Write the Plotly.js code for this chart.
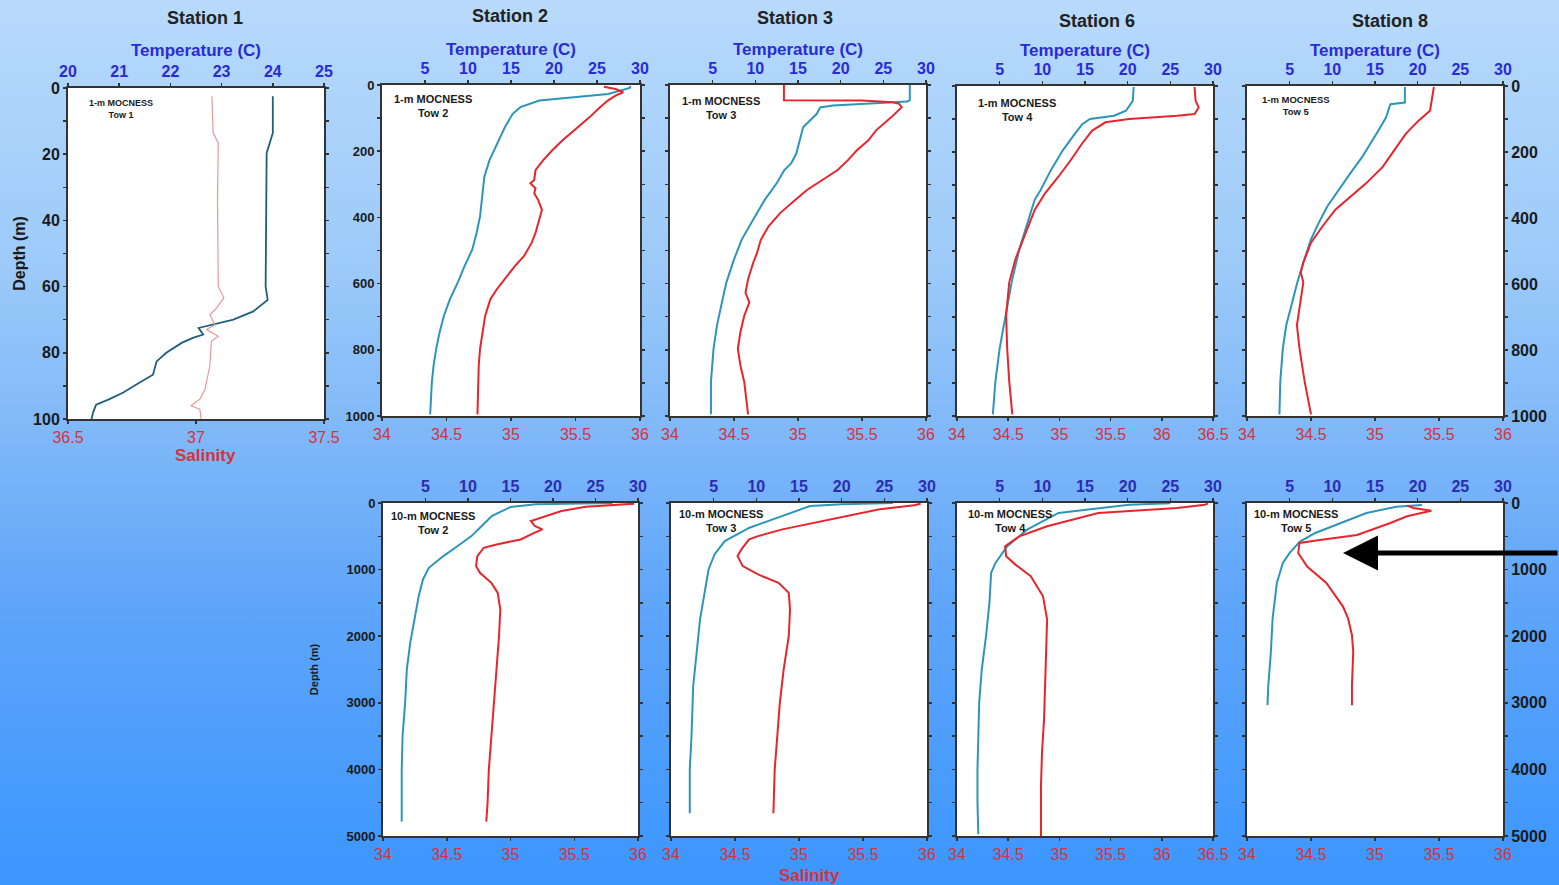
<!DOCTYPE html>
<html>
<head>
<meta charset="utf-8">
<script src="https://cdn.plot.ly/plotly-3.0.1.min.js"></script>
<style>
html,body{margin:0;padding:0;}
#chart{width:1559px;height:885px;background:linear-gradient(to bottom,#b8dafc 0%,#9ccaf9 30%,#7db7f8 50%,#5fa5fa 68%,#3b96fe 100%);}
</style>
</head>
<body>
<div id="chart"></div>
<script>
// ---------------- DATA ----------------
// Station 1, 1-m MOCNESS Tow 1 (depth 0-100 m)
const s1TDepth = [2.5, 13.6, 19.6, 33.7, 60, 64, 67.5, 70, 71.8, 72.5, 74.5, 75.5, 77, 80, 82.6, 86.6, 89, 92, 94, 95.7, 98, 100];
const s1Temp   = [24.0, 24.0, 23.88, 23.87, 23.86, 23.9, 23.62, 23.23, 22.7, 22.55, 22.64, 22.44, 22.22, 21.92, 21.73, 21.66, 21.4, 21.08, 20.81, 20.55, 20.49, 20.46];
const s1SDepth = [2.5, 13.6, 16.6, 33.7, 60, 63.4, 66.5, 68.5, 71.5, 73, 75, 76.5, 84, 91, 94, 96, 97, 100];
const s1Sal    = [37.062, 37.067, 37.087, 37.084, 37.087, 37.109, 37.08, 37.054, 37.074, 37.041, 37.087, 37.06, 37.054, 37.035, 37.015, 36.98, 37.015, 37.02];

// Station 2, 1-m MOCNESS Tow 2 (0-1000 m)
const s2TDepth = [3, 9, 27, 37, 47, 67, 87, 127, 177, 227, 277, 347, 397, 447, 497, 547, 597, 647, 697, 747, 797, 847, 897, 995];
const s2Temp   = [28.9, 28.8, 26.3, 21.9, 18.3, 16.1, 15.2, 14.3, 13.4, 12.5, 11.9, 11.6, 11.4, 11.0, 10.5, 9.6, 8.8, 7.9, 7.2, 6.7, 6.3, 6.0, 5.8, 5.6];
const s2SDepth = [5, 12, 22, 32, 47, 67, 97, 127, 167, 197, 227, 257, 287, 297, 312, 327, 347, 377, 407, 447, 477, 517, 547, 587, 617, 647, 697, 747, 797, 847, 947, 995];
const s2Sal    = [35.72, 35.81, 35.87, 35.81, 35.75, 35.69, 35.61, 35.52, 35.40, 35.32, 35.25, 35.19, 35.18, 35.15, 35.19, 35.18, 35.21, 35.24, 35.22, 35.19, 35.16, 35.10, 35.03, 34.95, 34.89, 34.84, 34.80, 34.78, 34.76, 34.75, 34.74, 34.74];

// Station 3, 1-m MOCNESS Tow 3
const s3TDepth = [0, 46, 50, 56, 62, 68, 87, 128, 167, 207, 237, 257, 297, 347, 387, 427, 467, 527, 597, 667, 727, 797, 897, 995];
const s3Temp   = [28.1, 28.1, 27.8, 22.5, 19.1, 17.6, 17.2, 15.6, 15.2, 14.8, 14.2, 13.4, 12.5, 11.1, 10.2, 9.3, 8.4, 7.5, 6.6, 6.0, 5.5, 5.1, 4.8, 4.8];
const s3SDepth = [0, 46, 47, 52, 57, 67, 97, 137, 167, 197, 227, 257, 287, 317, 347, 387, 427, 467, 507, 537, 587, 627, 657, 697, 747, 797, 847, 897, 995];
const s3Sal    = [34.89, 34.89, 35.5, 35.74, 35.79, 35.81, 35.73, 35.61, 35.55, 35.46, 35.39, 35.31, 35.19, 35.07, 34.98, 34.86, 34.77, 34.71, 34.68, 34.65, 34.61, 34.59, 34.62, 34.58, 34.55, 34.53, 34.55, 34.58, 34.61];

// Station 6, 1-m MOCNESS Tow 4
const s6TDepth = [3, 45, 75, 90, 100, 115, 145, 195, 255, 315, 345, 405, 495, 595, 695, 795, 895, 995];
const s6Temp   = [20.7, 20.6, 19.8, 18.4, 15.6, 14.7, 13.8, 12.4, 11.0, 9.8, 9.1, 8.4, 7.3, 6.4, 5.7, 5.0, 4.5, 4.2];
const s6SDepth = [3, 45, 65, 85, 90, 100, 110, 135, 175, 225, 275, 325, 375, 445, 525, 595, 695, 795, 895, 995];
const s6Sal    = [36.32, 36.33, 36.36, 36.32, 36.15, 35.68, 35.45, 35.32, 35.22, 35.11, 34.99, 34.86, 34.76, 34.67, 34.57, 34.51, 34.48, 34.49, 34.51, 34.54];

// Station 8, 1-m MOCNESS Tow 5
const s8TDepth = [3, 50, 55, 95, 135, 175, 215, 265, 315, 365, 415, 465, 535, 595, 665, 725, 795, 895, 995];
const s8Temp   = [18.5, 18.5, 16.8, 16.3, 15.4, 14.5, 13.5, 12.1, 10.8, 9.4, 8.4, 7.5, 6.6, 5.9, 5.2, 4.6, 4.2, 3.9, 3.8];
const s8SDepth = [3, 45, 75, 105, 145, 195, 245, 295, 335, 375, 425, 475, 535, 565, 595, 665, 725, 795, 895, 995];
const s8Sal    = [35.46, 35.44, 35.43, 35.34, 35.24, 35.15, 35.06, 34.93, 34.81, 34.69, 34.59, 34.50, 34.44, 34.42, 34.44, 34.41, 34.39, 34.41, 34.45, 34.50];

// Station 2, 10-m MOCNESS Tow 2 (0-5000 m)
const b2TDepth = [0, 20, 60, 196, 371, 497, 672, 797, 973, 1148, 1399, 1750, 2101, 2502, 3004, 3506, 4007, 4509, 4784];
const b2Temp   = [27, 18, 15.0, 12.8, 11.4, 10.4, 8.5, 7.1, 5.4, 4.7, 4.2, 3.7, 3.2, 2.8, 2.6, 2.3, 2.2, 2.2, 2.2];
const b2SDepth = [10, 55, 120, 196, 271, 346, 396, 446, 547, 622, 672, 797, 948, 1048, 1199, 1349, 1600, 2001, 2502, 3004, 3506, 4007, 4509, 4784];
const b2Sal    = [35.97, 35.59, 35.40, 35.27, 35.16, 35.19, 35.25, 35.19, 35.08, 34.89, 34.79, 34.74, 34.73, 34.76, 34.85, 34.90, 34.92, 34.91, 34.89, 34.87, 34.85, 34.83, 34.82, 34.81];

// Station 3, 10-m MOCNESS Tow 3
const b3TDepth = [0, 20, 45, 196, 371, 572, 772, 998, 1399, 1750, 2252, 2753, 3506, 4007, 4659];
const b3Temp   = [26, 20, 16.3, 13.0, 9.2, 6.3, 5.1, 4.4, 3.9, 3.4, 3.0, 2.6, 2.4, 2.2, 2.2];
const b3SDepth = [10, 35, 95, 246, 396, 497, 547, 697, 797, 948, 1073, 1199, 1349, 1600, 2001, 2502, 3004, 3506, 4007, 4659];
const b3Sal    = [35.95, 35.90, 35.63, 35.25, 34.87, 34.68, 34.61, 34.55, 34.52, 34.56, 34.68, 34.84, 34.92, 34.93, 34.92, 34.88, 34.85, 34.83, 34.81, 34.80];

// Station 6, 10-m MOCNESS Tow 4
const b6TDepth = [5, 25, 150, 400, 650, 900, 1050, 1500, 2000, 2500, 3000, 3500, 4000, 4500, 4975];
const b6Temp   = [25, 20.2, 11.9, 8.2, 5.9, 4.5, 4.0, 3.8, 3.4, 2.9, 2.6, 2.5, 2.4, 2.4, 2.5];
const b6SDepth = [10, 25, 75, 150, 350, 500, 650, 800, 925, 1100, 1400, 1750, 2250, 2750, 3250, 3750, 4250, 5000];
const b6Sal    = [36.45, 36.42, 36.15, 35.38, 34.88, 34.61, 34.47, 34.48, 34.57, 34.72, 34.84, 34.88, 34.87, 34.86, 34.85, 34.83, 34.82, 34.82];

// Station 8, 10-m MOCNESS Tow 5
const b8TDepth = [30, 55, 150, 300, 450, 580, 750, 900, 1200, 1735, 2235, 2735, 3035];
const b8Temp   = [20.5, 17.5, 14.0, 10.9, 8.0, 6.2, 5.0, 4.2, 3.5, 3.0, 2.8, 2.5, 2.4];
const b8SDepth = [40, 75, 115, 200, 300, 400, 480, 555, 600, 750, 955, 1200, 1555, 1735, 1985, 2235, 2735, 3035];
const b8Sal    = [35.25, 35.30, 35.44, 35.25, 35.12, 34.98, 34.86, 34.57, 34.41, 34.40, 34.47, 34.62, 34.75, 34.79, 34.82, 34.83, 34.82, 34.82];

// Labels
const stationNames = ['Station 1', 'Station 2', 'Station 3', 'Station 6', 'Station 8'];
const towLabels = ['1-m MOCNESS<br>Tow 1', '1-m MOCNESS<br>Tow 2', '1-m MOCNESS<br>Tow 3', '1-m MOCNESS<br>Tow 4', '1-m MOCNESS<br>Tow 5',
                   '10-m MOCNESS<br>Tow 2', '10-m MOCNESS<br>Tow 3', '10-m MOCNESS<br>Tow 4', '10-m MOCNESS<br>Tow 5'];
const tempTicksS1 = [20, 21, 22, 23, 24, 25];
const salTicksS1 = [36.5, 37, 37.5];
const tempTicks = [5, 10, 15, 20, 25, 30];
const salTicks = [34, 34.5, 35, 35.5, 36];
const salTicksWide = [34, 34.5, 35, 35.5, 36, 36.5];

// ---------------- LAYOUT ----------------
const W = 1559, H = 885;
const fx = p => p / W;
const fy = p => 1 - p / H;
const FONT = 'Liberation Sans, Arial, sans-serif';
const TBLUE = '#2a2ad6', TBLUE2 = '#2c2cae', SRED = '#d8323c';
const LINEC = '#333333';

const panels = [
  {box:[68,324,88,419],  t:[tempTicksS1,[20,25]], s:[salTicksS1,[36.5,37.5]], yr:[100,0], dt:20, mdt:10, lab:'left', labSize:16, tT:s1Temp, tD:s1TDepth, sS:s1Sal, sD:s1SDepth, small:true, tw:[121,109,9], ts:2},
  {box:[382,640,85,416], t:[tempTicks,[0,30]], s:[salTicks,[34,36]], yr:[1000,0], dt:200, mdt:100, lab:'left', labSize:13, tT:s2Temp, tD:s2TDepth, sS:s2Sal, sD:s2SDepth, tw:[433,106,11], ts:0},
  {box:[670,926,85,416], t:[tempTicks,[0,30]], s:[salTicks,[34,36]], yr:[1000,0], dt:200, mdt:100, lab:'none', tT:s3Temp, tD:s3TDepth, sS:s3Sal, sD:s3SDepth, tw:[721,108,11], ts:0},
  {box:[957,1213,86,416],t:[tempTicks,[0,30]], s:[salTicksWide,[34,36.5]], yr:[1000,0], dt:200, mdt:100, lab:'none', tT:s6Temp, tD:s6TDepth, sS:s6Sal, sD:s6SDepth, tw:[1017,110,11], ts:0},
  {box:[1247,1503,86,416],t:[tempTicks,[0,30]], s:[salTicks,[34,36]], yr:[1000,0], dt:200, mdt:100, lab:'right', labSize:16, tT:s8Temp, tD:s8TDepth, sS:s8Sal, sD:s8SDepth, tw:[1296,106,9.5], ts:0},
  {box:[383,638,503,836],t:[tempTicks,[0,30]], s:[salTicks,[34,36]], yr:[5000,0], dt:1000, mdt:500, lab:'left', labSize:13, tT:b2Temp, tD:b2TDepth, sS:b2Sal, sD:b2SDepth, tw:[433,523,11], bottom:true},
  {box:[671,927,503,836],t:[tempTicks,[0,30]], s:[salTicks,[34,36]], yr:[5000,0], dt:1000, mdt:500, lab:'none', tT:b3Temp, tD:b3TDepth, sS:b3Sal, sD:b3SDepth, tw:[721,521,11], bottom:true},
  {box:[957,1213,503,836],t:[tempTicks,[0,30]], s:[salTicksWide,[34,36.5]], yr:[5000,0], dt:1000, mdt:500, lab:'none', tT:b6Temp, tD:b6TDepth, sS:b6Sal, sD:b6SDepth, tw:[1010,521,11], bottom:true},
  {box:[1247,1503,503,836],t:[tempTicks,[0,30]], s:[salTicks,[34,36]], yr:[5000,0], dt:1000, mdt:500, lab:'right', labSize:16, tT:b8Temp, tD:b8TDepth, sS:b8Sal, sD:b8SDepth, tw:[1296,521,11], bottom:true}
];

const axName = (p, id) => id === 1 ? p + 'axis' : p + 'axis' + id;
const axRef = (p, id) => id === 1 ? p : p + id;

const layout = {
  width: W, height: H,
  margin: {l:0, r:0, t:0, b:0},
  paper_bgcolor: 'rgba(0,0,0,0)',
  plot_bgcolor: '#ffffff',
  showlegend: false,
  font: {family: FONT},
  annotations: []
};
const data = [];

panels.forEach((p, i) => {
  const k = i + 1;
  const tId = 2*k - 1, sId = 2*k;
  const [x0, x1, y0, y1] = p.box;
  const common = {showgrid:false, zeroline:false, showline:true, linecolor:LINEC, linewidth:2,
                  ticks:'outside', ticklen:3, tickwidth:1.5, tickcolor:LINEC, fixedrange:true};
  layout[axName('x', tId)] = Object.assign({}, common, {
    domain:[fx(x0), fx(x1)], range:p.t[1], tickvals:p.t[0], side:'top', anchor:axRef('y', k),
    tickfont:{family:FONT, size:16, color: p.bottom ? TBLUE2 : TBLUE, weight:'bold'},
    title: p.bottom ? {text:''} : {text:'Temperature (C)', standoff:p.ts, font:{family:FONT, size:17, color:TBLUE, weight:'bold'}}
  });
  layout[axName('x', sId)] = Object.assign({}, common, {
    range:p.s[1], tickvals:p.s[0], side:'bottom', overlaying:axRef('x', tId), anchor:axRef('y', k),
    tickfont:{family:FONT, size:16, color:SRED}
  });
  const yax = Object.assign({}, common, {
    domain:[fy(y1), fy(y0)], range:p.yr, dtick:p.dt, tick0:0, anchor:axRef('x', tId),
    mirror:'ticks', side: p.lab === 'right' ? 'right' : 'left',
    showticklabels: p.lab !== 'none',
    minor:{dtick:p.mdt, ticks:'outside', ticklen:3, tickcolor:LINEC},
    tickfont:{family:FONT, size:p.labSize || 13, color:'#1a1a1a', weight:'bold'}
  });
  if (i === 0) yax.title = {text:'Depth (m)', standoff:3, font:{family:FONT, size:16, color:'#1a1a1a', weight:'bold'}};
  if (i === 5) yax.title = {text:'Depth (m)', standoff:26, font:{family:FONT, size:11, color:'#1a1a1a', weight:'bold'}};
  layout[axName('y', k)] = yax;

  data.push({type:'scatter', mode:'lines', x:p.tT, y:p.tD, xaxis:axRef('x', tId), yaxis:axRef('y', k),
    line:{color: p.small ? '#1f5e7c' : '#2c96ba', width: p.small ? 1.8 : 2}, name:'Temperature', hoverinfo:'x+y'});
  data.push({type:'scatter', mode:'lines', x:p.sS, y:p.sD, xaxis:axRef('x', sId), yaxis:axRef('y', k),
    line:{color: p.small ? '#e79a9a' : '#e8242c', width: p.small ? 1.2 : 2}, name:'Salinity', hoverinfo:'x+y'});

  layout.annotations.push({xref:'paper', yref:'paper', x:fx(p.tw[0]), y:fy(p.tw[1]), text:towLabels[i],
    showarrow:false, xanchor:'center', yanchor:'middle', align:'center',
    font:{family:FONT, size:p.tw[2], color:'#1a1a1a', weight:'bold'}});
});

// Station titles
const titlePos = [[205,18],[510,16],[795,18],[1097,21],[1390,21]];
stationNames.forEach((n, i) => {
  layout.annotations.push({xref:'paper', yref:'paper', x:fx(titlePos[i][0]), y:fy(titlePos[i][1]), text:n,
    showarrow:false, xanchor:'center', yanchor:'middle', font:{family:FONT, size:18, color:'#222222', weight:'bold'}});
});
// Salinity titles
layout.annotations.push({xref:'paper', yref:'paper', x:fx(205), y:fy(455), text:'Salinity', showarrow:false,
  xanchor:'center', yanchor:'middle', font:{family:FONT, size:17, color:SRED, weight:'bold'}});
layout.annotations.push({xref:'paper', yref:'paper', x:fx(810), y:fy(875), text:'Salinity', showarrow:false,
  xanchor:'center', yanchor:'middle', font:{family:FONT, size:17, color:SRED, weight:'bold'}});
// Arrow
layout.annotations.push({xref:'paper', yref:'paper', x:fx(1343), y:fy(553), ax:230, ay:0, axref:'pixel', ayref:'pixel',
  text:'', showarrow:true, arrowhead:2, arrowsize:1.4, arrowwidth:5, arrowcolor:'#000000', standoff:0});

Plotly.newPlot('chart', data, layout, {displayModeBar:false, staticPlot:true});
</script>
</body>
</html>
